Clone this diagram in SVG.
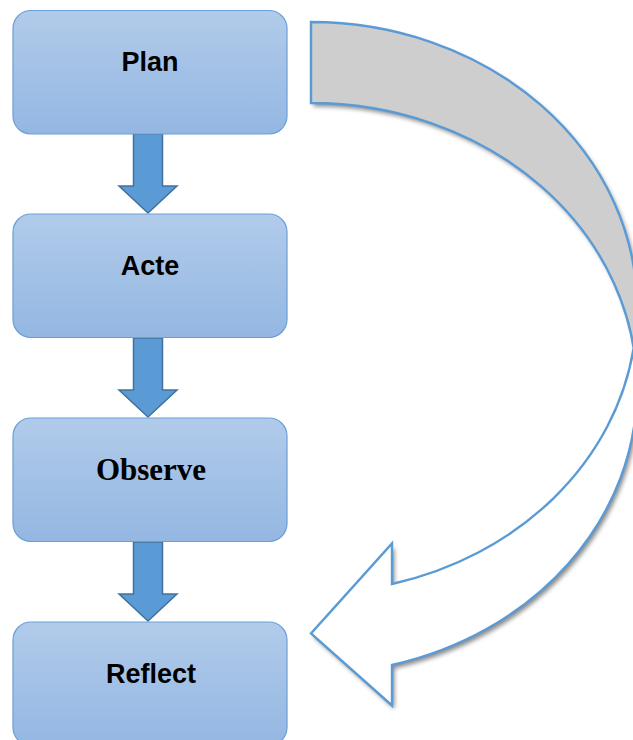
<svg xmlns="http://www.w3.org/2000/svg" width="633" height="740" viewBox="0 0 633 740">
  <defs>
    <linearGradient id="boxFill" x1="0" y1="0" x2="0" y2="1">
      <stop offset="0" stop-color="#b1cbea"/>
      <stop offset="1" stop-color="#94b7e2"/>
    </linearGradient>
    <filter id="shadow" x="-10%" y="-10%" width="125%" height="125%">
      <feDropShadow dx="2.5" dy="3.5" stdDeviation="2.2" flood-color="#000" flood-opacity="0.45"/>
    </filter>
  </defs>
  <style>
    .box { fill: url(#boxFill); stroke: #6a9fd8; stroke-width: 1.2; }
    .lbl { font-family: "Liberation Sans", Arial, sans-serif; font-weight: bold; font-size: 27px; fill: #000; text-anchor: middle; }
    .lbl-serif { font-family: "Liberation Serif", "Times New Roman", serif; font-weight: bold; font-size: 31px; fill: #000; text-anchor: middle; }
    .down { fill: #5b9bd5; stroke: #41719c; stroke-width: 1.5; stroke-linejoin: miter; }
    .back { fill: #cecece; }
    .front { fill: #ffffff; }
    .outline { fill: none; stroke: #5b9bd5; stroke-width: 2.4; stroke-linejoin: miter; }
  </style>

  <g id="connectors">
    <polygon class="down" points="133.5,134 162.5,134 162.5,186 177,186 148,213 119,186 133.5,186"/>
    <polygon class="down" points="133.5,338 162.5,338 162.5,390 177,390 148,417 119,390 133.5,390"/>
    <polygon class="down" points="133.5,542 162.5,542 162.5,594 177,594 148,621 119,594 133.5,594"/>
    <g id="loop-arrow">
      <g filter="url(#shadow)">
        <path class="back" d="M 637 388.5 A 326 285.5 0 0 0 311 103 L 311 22 A 326 285.5 0 0 1 637 307.5 Z"/>
        <path class="front" d="M 311 633.5 L 392 543.5 L 392 584 A 326 285.5 0 0 0 633.7 348 A 326 285.5 0 0 1 392 665 L 392 705.5 Z"/>
      </g>
      <path class="outline" d="M 637 388.5 A 326 285.5 0 0 0 311 103 L 311 22 A 326 285.5 0 0 1 637 307.5 L 637 388.5 A 326 285.5 0 0 1 392 665 L 392 705.5 L 311 633.5 L 392 543.5 L 392 584 A 326 285.5 0 0 0 633.7 348"/>
    </g>
  </g>

  <g id="node-plan">
    <rect class="box" x="13" y="10.5" width="274" height="123.5" rx="18" ry="18"/>
    <text class="lbl" x="150" y="71">Plan</text>
  </g>
  <g id="node-acte">
    <rect class="box" x="13" y="214" width="274" height="123.5" rx="18" ry="18"/>
    <text class="lbl" x="150" y="275">Acte</text>
  </g>
  <g id="node-observe">
    <rect class="box" x="13" y="418" width="274" height="123.5" rx="18" ry="18"/>
    <text class="lbl-serif" x="151" y="480">Observe</text>
  </g>
  <g id="node-reflect">
    <rect class="box" x="13" y="622" width="274" height="123.5" rx="18" ry="18"/>
    <text class="lbl" x="151" y="683">Reflect</text>
  </g>
</svg>
